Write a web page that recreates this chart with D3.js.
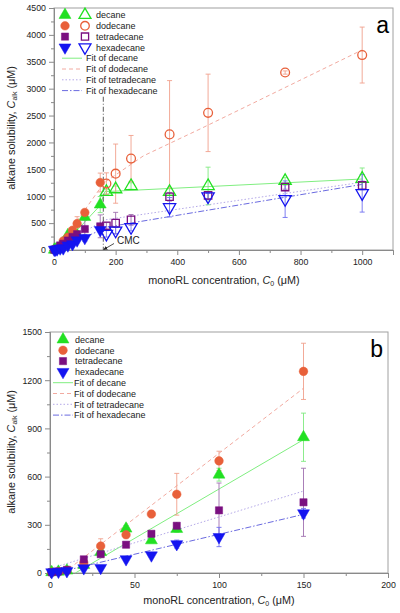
<!DOCTYPE html>
<html><head><meta charset="utf-8">
<script src="https://cdn.jsdelivr.net/npm/d3@7"></script>
<style>
body{margin:0;background:#fff;}
svg{display:block;font-family:"Liberation Sans",Arial,sans-serif;}
</style></head>
<body><svg id="c" width="400" height="613"></svg>
<script>
// ---------------- DATA ----------------
const seriesNames = ["decane","dodecane","tetradecane","hexadecane"];
// below-CMC measurements (filled markers, shared by both panels)
const lowX = [1, 5, 10, 20, 30, 45, 60, 75, 100, 150];
const lowDecane      = [5, 8, 15, 50, 130, 276, 203, 274, 612, 845];
const lowDodecane    = [5, 8, 15, 63, 168, 238, 367, 490, 698, 1255];
const lowTetradecane = [5, 10, 20, 85, 117, 176, 244, 294, 390, 440];
const lowHexadecane  = [5, 8, 12, 30, 32, 86, 110, 180, 224, 372];
const lowErrDecane      = [2, 3, 4, 10, 15, 20, 15, 20, 40, 150];
const lowErrDodecane    = [2, 3, 4, 10, 45, 20, 22, 130, 60, 175];
const lowErrTetradecane = [2, 3, 4, 10, 15, 15, 15, 15, 170, 212];
const lowErrHexadecane  = [2, 3, 4, 6, 8, 10, 12, 25, 60, 30];
// above-CMC measurements (open markers, panel a)
const highX = [170, 200, 250, 375, 500, 750, 1000];
const highDecane      = [1080, 1130, 1190, 1080, 1190, 1285, 1325];
const highDodecane    = [1235, 1420, 1700, 2150, 2550, 3300, 3625];
const highTetradecane = [450, 500, 560, 990, 1015, 1170, 1200];
const highHexadecane  = [300, 360, 425, 795, 995, 945, 1055];
const highErrDecane      = [40, 60, 60, 60, 350, 60, 200];
const highErrDodecane    = [200, 550, 430, 1000, 720, 30, 520];
const highErrTetradecane = [60, 200, 100, 80, 60, 40, 80];
const highErrHexadecane  = [60, 60, 70, 180, 60, 340, 350];
// fit curves [x, y]
const fitA_decane      = [[15,0],[150,830],[165,1085],[1000,1320]];
const fitA_dodecane    = [[8,0],[150,1150],[165,1260],[290,1750],[474,2250],[1000,3720]];
const fitA_tetradecane = [[0,27],[150,510],[165,560],[1000,1260]];
const fitA_hexadecane  = [[3,0],[150,365],[165,420],[1000,1220]];
const fitB_decane      = [[15,0],[150,830]];
const fitB_dodecane    = [[8,0],[150,1150]];
const fitB_tetradecane = [[0,27],[150,510]];
const fitB_hexadecane  = [[3,0],[150,365]];
const cmcValue = 160;
const xTicksA = [0,200,400,600,800,1000];
const yTicksA = [0,500,1000,1500,2000,2500,3000,3500,4000,4500];
const xTicksB = [0,50,100,150,200];
const yTicksB = [0,300,600,900,1200,1500];

// ---------------- STYLE ----------------
const colors = {decane:"#22e022", dodecane:"#e8603a", tetradecane:"#7a0f80", hexadecane:"#1414f0"};
const errColors = {decane:"#7fea7f", dodecane:"#f0a08c", tetradecane:"#a070b0", hexadecane:"#7070f0"};
const fitColors = {decane:"#80ee80", dodecane:"#f2aaa0", tetradecane:"#b4a8e8", hexadecane:"#6a6ae0"};
const fitDash = {decane:null, dodecane:"4,3", tetradecane:"1.5,2", hexadecane:"6,2,1.5,2"};
const symbolOf = {decane:d3.symbolTriangle, dodecane:d3.symbolCircle, tetradecane:d3.symbolSquare, hexadecane:d3.symbolTriangle};
const rotOf = {decane:0, dodecane:0, tetradecane:0, hexadecane:180};
const sizeOf = {decane:62, dodecane:58, tetradecane:52, hexadecane:62};

const lowY = {decane:lowDecane, dodecane:lowDodecane, tetradecane:lowTetradecane, hexadecane:lowHexadecane};
const lowE = {decane:lowErrDecane, dodecane:lowErrDodecane, tetradecane:lowErrTetradecane, hexadecane:lowErrHexadecane};
const highY = {decane:highDecane, dodecane:highDodecane, tetradecane:highTetradecane, hexadecane:highHexadecane};
const highE = {decane:highErrDecane, dodecane:highErrDodecane, tetradecane:highErrTetradecane, hexadecane:highErrHexadecane};
const fitsA = {decane:fitA_decane, dodecane:fitA_dodecane, tetradecane:fitA_tetradecane, hexadecane:fitA_hexadecane};
const fitsB = {decane:fitB_decane, dodecane:fitB_dodecane, tetradecane:fitB_tetradecane, hexadecane:fitB_hexadecane};

const svg = d3.select("#c");
const axisCol = "#8a8a8a";

function panel(cfg){
  const g = svg.append("g");
  const x = d3.scaleLinear().domain(cfg.xDom).range([cfg.L, cfg.R]);
  const y = d3.scaleLinear().domain(cfg.yDom).range([cfg.B, cfg.T]);
  g.append("rect").attr("x",cfg.L).attr("y",cfg.T).attr("width",cfg.R-cfg.L).attr("height",cfg.B-cfg.T)
    .attr("fill","none").attr("stroke","#a0a0a0").attr("stroke-width",1);
  const xa = g.append("g").attr("transform",`translate(0,${cfg.B})`)
    .call(d3.axisBottom(x).tickValues(cfg.xTicks).tickSize(5).tickPadding(4).tickFormat(d3.format("d")));
  const xm = g.append("g").attr("transform",`translate(0,${cfg.B})`)
    .call(d3.axisBottom(x).tickValues(cfg.xMinor).tickSize(3).tickFormat(""));
  const ya = g.append("g").attr("transform",`translate(${cfg.L},0)`)
    .call(d3.axisLeft(y).tickValues(cfg.yTicks).tickSize(5).tickPadding(3).tickFormat(d3.format("d")));
  const ym = g.append("g").attr("transform",`translate(${cfg.L},0)`)
    .call(d3.axisLeft(y).tickValues(cfg.yMinor).tickSize(3).tickFormat(""));
  [xa,xm,ya,ym].forEach(a=>{
    a.selectAll("path").attr("stroke",axisCol);
    a.selectAll("line").attr("stroke",axisCol);
    a.selectAll("text").attr("fill","#222").style("font-size","8.8px").style("font-family","'Liberation Sans',Arial,sans-serif");
  });
  const yt = g.append("text").attr("transform",`translate(${cfg.yTitleX},${cfg.yTitleY}) rotate(-90)`)
    .attr("text-anchor","middle").style("font-size","10.8px").attr("fill","#222");
  yt.append("tspan").text("alkane solubility, ");
  yt.append("tspan").attr("font-style","italic").text("C");
  yt.append("tspan").attr("dy",2).style("font-size","7px").text("alk");
  yt.append("tspan").attr("dy",-2).text(" (\u03bcM)");
  const xt = g.append("text").attr("x",cfg.xTitleX).attr("y",cfg.xTitleY)
    .attr("text-anchor","middle").style("font-size","10.8px").attr("fill","#222");
  xt.append("tspan").text("monoRL concentration, ");
  xt.append("tspan").attr("font-style","italic").text("C");
  xt.append("tspan").attr("dy",2).style("font-size","7px").text("0");
  xt.append("tspan").attr("dy",-2).text(" (\u03bcM)");
  g.append("text").attr("x",cfg.letterX).attr("y",cfg.letterY).attr("text-anchor","end")
    .style("font-size","23px").attr("fill","#000").text(cfg.letter);
  return {g,x,y};
}

function drawFits(p, fits){
  const line = d3.line().x(d=>p.x(d[0])).y(d=>p.y(d[1]));
  seriesNames.forEach(s=>{
    p.g.append("path").attr("d",line(fits[s])).attr("fill","none")
      .attr("stroke",fitColors[s]).attr("stroke-width",1)
      .attr("stroke-dasharray",fitDash[s]);
  });
}
function drawErr(p, xs, ys, es, s){
  xs.forEach((xv,i)=>{
    const e = es[i]; if(!e) return;
    const cx = p.x(xv), y1 = p.y(ys[i]+e), y0 = p.y(Math.max(0,ys[i]-e));
    p.g.append("line").attr("x1",cx).attr("x2",cx).attr("y1",y1).attr("y2",y0).attr("stroke",errColors[s]).attr("stroke-width",0.9);
    [y1,y0].forEach(yy=>p.g.append("line").attr("x1",cx-2.5).attr("x2",cx+2.5).attr("y1",yy).attr("y2",yy).attr("stroke",errColors[s]).attr("stroke-width",0.9));
  });
}
function drawPts(p, xs, ys, s, open){
  const sym = d3.symbol().type(symbolOf[s]).size(open?sizeOf[s]*1.05:sizeOf[s]);
  xs.forEach((xv,i)=>{
    p.g.append("path").attr("d",sym())
      .attr("transform",`translate(${p.x(xv)},${p.y(ys[i])}) rotate(${rotOf[s]})`)
      .attr("fill",open?"none":colors[s]).attr("stroke",colors[s]).attr("stroke-width",open?1.3:0.5);
  });
}

// ---------------- PANEL A ----------------
const A = panel({L:54,R:393,T:8,B:250,xDom:[0,1100],yDom:[0,4500],
  xTicks:xTicksA, xMinor:d3.range(100,1100,200), yTicks:yTicksA, yMinor:d3.range(250,4500,500),
  yTitleX:15,yTitleY:128,xTitleX:224,xTitleY:284,letter:"a",letterX:389,letterY:33});
drawFits(A, fitsA);
A.g.append("line").attr("x1",A.x(cmcValue)).attr("x2",A.x(cmcValue)).attr("y1",A.y(2850)).attr("y2",A.y(0))
  .attr("stroke","#333").attr("stroke-width",0.8).attr("stroke-dasharray","5,2,1,2");
seriesNames.forEach(s=>{ drawErr(A, lowX, lowY[s], lowE[s], s); drawErr(A, highX, highY[s], highE[s], s); });
seriesNames.forEach(s=>{ drawPts(A, lowX, lowY[s], s, false); drawPts(A, highX, highY[s], s, true); });
svg.append("defs").append("marker").attr("id","ah").attr("viewBox","0 0 10 10").attr("refX",9).attr("refY",5)
  .attr("markerWidth",5).attr("markerHeight",5).attr("orient","auto")
  .append("path").attr("d","M0,0L10,5L0,10z").attr("fill","#222");
A.g.append("line").attr("x1",114).attr("y1",243.5).attr("x2",A.x(cmcValue)+0.5).attr("y2",A.y(0)-0.5)
  .attr("stroke","#222").attr("stroke-width",0.8).attr("marker-end","url(#ah)");
A.g.append("text").attr("x",117).attr("y",244).style("font-size","10px").attr("fill","#222").text("CMC");

function legend(p, cfg, withOpen){
  seriesNames.forEach((s,i)=>{
    const yy = cfg.y0 + i*cfg.dy;
    const sym = d3.symbol().type(symbolOf[s]).size(sizeOf[s]);
    p.g.append("path").attr("d",sym()).attr("transform",`translate(${cfg.mx},${yy}) rotate(${rotOf[s]})`)
      .attr("fill",colors[s]).attr("stroke",colors[s]).attr("stroke-width",0.5);
    if(withOpen) p.g.append("path").attr("d",sym()).attr("transform",`translate(${cfg.ox},${yy}) rotate(${rotOf[s]})`)
      .attr("fill","none").attr("stroke",colors[s]).attr("stroke-width",1.3);
    p.g.append("text").attr("x",cfg.tx).attr("y",yy+3.2).style("font-size","9px").attr("fill","#222").text(s);
  });
  seriesNames.forEach((s,i)=>{
    const yy = cfg.y0 + (4+i)*cfg.dy;
    p.g.append("line").attr("x1",cfg.l0).attr("x2",cfg.l1).attr("y1",yy).attr("y2",yy)
      .attr("stroke",fitColors[s]).attr("stroke-width",1).attr("stroke-dasharray",fitDash[s]);
    p.g.append("text").attr("x",cfg.ftx).attr("y",yy+3.2).style("font-size","9px").attr("fill","#222").text("Fit of "+s);
  });
}
legend(A,{y0:15,dy:10.8,mx:65,ox:85,tx:96,l0:62,l1:82,ftx:86},true);

// ---------------- PANEL B ----------------
const B = panel({L:50,R:388,T:332,B:573,xDom:[0,200],yDom:[0,1500],
  xTicks:xTicksB, xMinor:d3.range(25,200,50), yTicks:yTicksB, yMinor:d3.range(150,1500,300),
  yTitleX:15,yTitleY:452,xTitleX:219,xTitleY:604,letter:"b",letterX:383,letterY:357});
drawFits(B, fitsB);
seriesNames.forEach(s=>drawErr(B, lowX, lowY[s], lowE[s], s));
seriesNames.forEach(s=>drawPts(B, lowX, lowY[s], s, false));
legend(B,{y0:339.5,dy:10.8,mx:63,ox:0,tx:75,l0:53,l1:73,ftx:74},false);
</script></body></html>
